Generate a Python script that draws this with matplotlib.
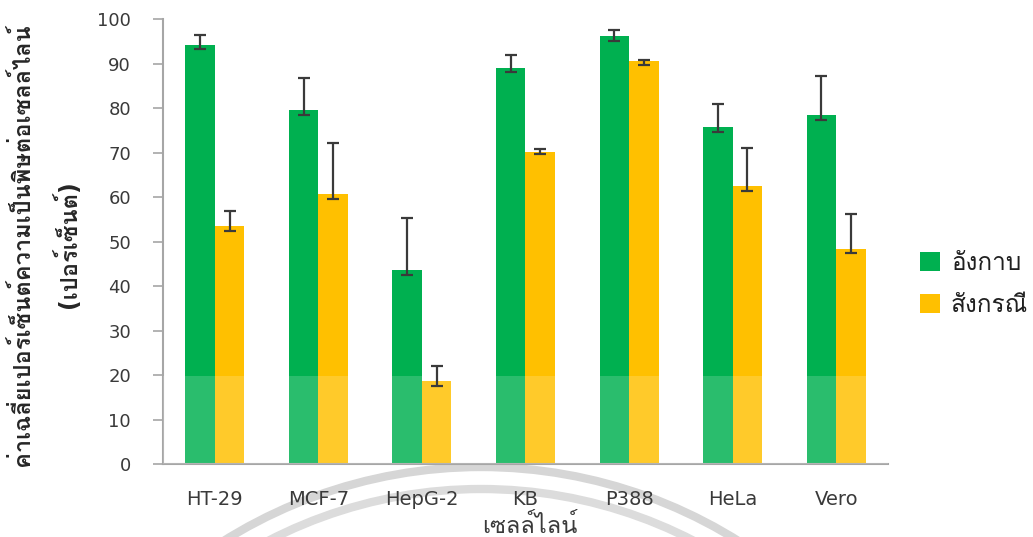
import matplotlib
matplotlib.use("Agg")
import matplotlib.pyplot as plt
import numpy as np
from matplotlib import font_manager as fm
from matplotlib.ft2font import FT2Font
from matplotlib.patches import Arc

categories = ["HT-29", "MCF-7", "HepG-2", "KB", "P388", "HeLa", "Vero"]
series_names = ["อังกาบ", "สังกรณี"]
green_vals = [94.2, 79.6, 43.6, 89.0, 96.2, 75.7, 78.4]
green_err_up = [2.2, 7.1, 11.7, 2.9, 1.3, 5.2, 8.8]
green_err_lo = [0.9, 1.2, 1.1, 0.9, 1.1, 1.1, 1.1]
yellow_vals = [53.5, 60.7, 18.7, 70.2, 90.6, 62.5, 48.3]
yellow_err_up = [3.4, 11.4, 3.3, 0.6, 0.3, 8.5, 7.9]
yellow_err_lo = [1.1, 1.1, 1.2, 0.6, 0.9, 1.2, 0.9]
ylabel_line1 = "ค่าเฉลี่ยเปอร์เซ็นต์ความเป็นพิษต่อเซลล์ไลน์"
ylabel_line2 = "(เปอร์เซ็นต์)"
xlabel = "เซลล์ไลน์"
yticks = [0, 10, 20, 30, 40, 50, 60, 70, 80, 90, 100]

def find_thai():
    found = []
    for f in fm.fontManager.ttflist:
        try:
            ft = FT2Font(f.fname)
            cm = ft.get_charmap()
            if 0x0E01 in cm and 0x0E31 in cm:
                found.append(f.name)
        except Exception:
            pass
    return found

thai = find_thai()
fams = ["DejaVu Sans"]
if thai:
    fams.append(thai[0])
plt.rcParams['font.family'] = fams

GREEN = "#00B050"
YELLOW = "#FFC000"
TXT = "#3A3A3A"

fig = plt.figure(figsize=(10.33, 5.37), dpi=100)
ax = fig.add_axes([0.1578, 0.1359, 0.7018, 0.8287])

# watermark ring
for r, c in ((4.85, "#D6D6D6"), (4.63, "#DCDCDC")):
    arc = Arc((4.81, 5.37 - 9.52), 2 * r, 2 * r, theta1=10, theta2=170,
              transform=fig.dpi_scale_trans, color=c, lw=6, zorder=0)
    fig.add_artist(arc)

x = np.arange(len(categories))
w = 0.285
ax.bar(x - w / 2, green_vals, w, color=GREEN, label=series_names[0], zorder=2)
ax.bar(x + w / 2, yellow_vals, w, color=YELLOW, label=series_names[1], zorder=2)
ekw = dict(fmt="none", ecolor="#3A3A3A", elinewidth=1.6, capsize=4, capthick=1.6, zorder=5)
ax.errorbar(x - w / 2, green_vals, yerr=[green_err_lo, green_err_up], **ekw)
ax.errorbar(x + w / 2, yellow_vals, yerr=[yellow_err_lo, yellow_err_up], **ekw)
ax.axhspan(0, 19.8, color="white", alpha=0.17, lw=0, zorder=3)

ax.set_xlim(-0.5, 6.5)
ax.set_ylim(0, 100)
ax.set_yticks(yticks)
ax.set_xticks(x)
ax.set_xticklabels(categories)
for s in ("top", "right"):
    ax.spines[s].set_visible(False)
for s in ("left", "bottom"):
    ax.spines[s].set_color("#A6A6A6")
    ax.spines[s].set_linewidth(1.5)
ax.tick_params(axis="y", length=7, width=1.2, color="#A6A6A6", pad=16,
               labelsize=13, labelcolor=TXT)
ax.tick_params(axis="x", length=0, pad=19, labelsize=14, labelcolor=TXT)

fig.text(0.021, 0.545, ylabel_line1, rotation=90, ha="center", va="center",
         fontsize=17, fontweight="bold", color="#262626")
fig.text(0.065, 0.545, ylabel_line2, rotation=90, ha="center", va="center",
         fontsize=17, fontweight="bold", color="#262626")
fig.text(0.513, 0.021, xlabel, ha="center", va="center", fontsize=17, color=TXT)

leg = fig.legend(loc="upper left", bbox_to_anchor=(0.891, 0.533), frameon=False,
                 fontsize=17.5, handlelength=0.8, handleheight=0.8,
                 labelspacing=0.75, handletextpad=0.45, borderaxespad=0.0,
                 borderpad=0.0, labelcolor="#202020")

fig.savefig("out.png", dpi=100)
